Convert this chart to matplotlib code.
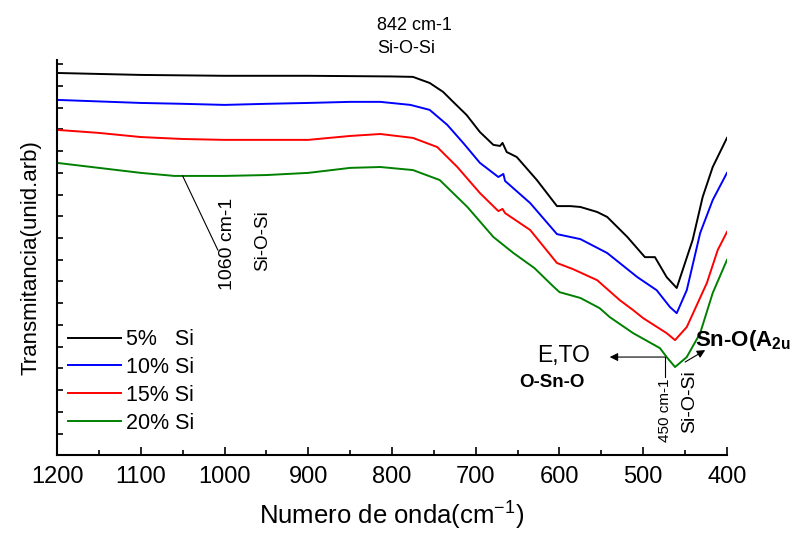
import matplotlib
matplotlib.use("Agg")
import matplotlib.pyplot as plt
from matplotlib.ticker import MultipleLocator, NullFormatter

# FTIR spectra, wavenumber (cm-1) vs transmittance (arbitrary units, offset curves)
wn_5 = [1200, 1100, 1000, 900, 800, 775, 755, 739, 727, 711, 695, 679, 671, 668,
        663, 651, 627, 615, 603, 587, 575, 555, 543, 519, 498, 486, 472, 460,
        441, 429, 417, 400]
tr_5 = [17.60, 17.51, 17.47, 17.47, 17.44, 17.42, 17.14, 16.73, 16.27, 15.67,
        14.88, 14.29, 14.24, 14.38, 13.96, 13.73, 12.67, 12.07, 11.47, 11.47,
        11.43, 11.20, 10.97, 10.05, 9.12, 9.12, 8.20, 7.70, 9.91, 11.89, 13.27,
        14.61]

wn_10 = [1200, 1100, 1050, 1000, 950, 900, 850, 814, 778, 755, 734, 715, 695,
         673, 667, 665, 635, 603, 575, 543, 507, 484, 468, 460, 448, 432, 417, 400]
tr_10 = [16.36, 16.22, 16.18, 16.13, 16.18, 16.22, 16.27, 16.27, 16.13, 15.90,
         15.21, 14.38, 13.46, 12.81, 12.95, 12.63, 11.61, 10.18, 9.95, 9.31,
         8.20, 7.60, 6.82, 6.54, 7.60, 10.23, 11.75, 13.00]

wn_15 = [1200, 1150, 1100, 1050, 1000, 900, 850, 814, 775, 746, 722, 695, 673,
         668, 665, 635, 603, 584, 555, 528, 512, 500, 472, 462, 448, 424, 411, 400]
tr_15 = [14.98, 14.84, 14.65, 14.56, 14.52, 14.52, 14.70, 14.79, 14.61, 14.19,
         13.27, 12.07, 11.24, 11.34, 11.15, 10.37, 8.85, 8.57, 8.06, 7.14, 6.68,
         6.31, 5.62, 5.30, 5.90, 7.93, 9.45, 10.28]

wn_20 = [1200, 1150, 1100, 1060, 1000, 950, 900, 850, 814, 775, 743, 710, 679,
         655, 630, 609, 600, 575, 552, 540, 512, 480, 472, 462, 448, 432, 417, 400]
tr_20 = [13.46, 13.23, 13.00, 12.86, 12.86, 12.90, 13.00, 13.23, 13.27, 13.13,
         12.67, 11.43, 10.05, 9.31, 8.62, 7.83, 7.51, 7.24, 6.77, 6.36, 5.62,
         4.93, 4.52, 4.06, 4.52, 5.62, 7.47, 8.99]

labels = ["5%   Si", "10% Si", "15% Si", "20% Si"]
colors = ["black", "#0000ff", "#ff0000", "#008000"]

xticks = [1200, 1100, 1000, 900, 800, 700, 600, 500, 400]

plt.rcParams["font.family"] = ["Liberation Sans", "DejaVu Sans"]
plt.rcParams["mathtext.fontset"] = "custom"
plt.rcParams["mathtext.rm"] = "Liberation Sans"
plt.rcParams["mathtext.bf"] = "Liberation Sans:bold"

fig = plt.figure(figsize=(7.9, 5.4), dpi=100)
ax = fig.add_axes([0.0722, 0.157, 0.848, 0.732])

series = [(wn_5, tr_5), (wn_10, tr_10), (wn_15, tr_15), (wn_20, tr_20)]
for (wn, tr), lab, col in zip(series, labels, colors):
    ax.plot(wn, tr, color=col, linewidth=1.4, label=lab)

ax.set_xlim(1200, 400)
ax.set_ylim(0, 18.2)
ax.set_xticks(xticks)
ax.xaxis.set_minor_locator(MultipleLocator(50))
ax.yaxis.set_major_locator(MultipleLocator(1))
ax.yaxis.set_major_formatter(NullFormatter())
ax.tick_params(axis="x", which="major", direction="in", length=6, width=1.2,
               labelsize=17, pad=8)
ax.tick_params(axis="x", which="minor", direction="in", length=3.5, width=1.2)
ax.tick_params(axis="y", which="major", direction="in", length=4, width=1.2)
ax.spines[["top", "right"]].set_visible(False)
ax.spines[["left", "bottom"]].set_linewidth(1.5)

ax.set_xlabel("Numero de onda(cm$^{-1}$)", fontsize=18.5, labelpad=7)
ax.set_ylabel("Transmitancia(unid.arb)", fontsize=16, labelpad=8)

ax.legend(loc="lower left", bbox_to_anchor=(0.0, 0.027), frameon=False,
          fontsize=15.5, handlelength=2.45, handletextpad=0.25, labelspacing=0.32,
          borderaxespad=0.1)

# band assignments
ax.text(818, 18.35, "842 cm-1\nSi-O-Si", fontsize=13, ha="left", va="bottom",
        linespacing=1.45, clip_on=False)

ax.plot([1050, 1008], [12.86, 9.45], color="black", linewidth=0.8)
ax.text(997, 7.6, "1060 cm-1", rotation=90, fontsize=14, ha="center", va="bottom")
ax.text(955, 8.5, "Si-O-Si", rotation=90, fontsize=13.5, ha="center", va="bottom")

# E,TO mode at 450 cm-1
ax.annotate("", xy=(540, 4.52), xytext=(474, 4.52),
            arrowprops=dict(arrowstyle="-|>", color="black", lw=0.8,
                            mutation_scale=12, shrinkA=0, shrinkB=0))
ax.plot([474, 474], [4.52, 3.59], color="black", linewidth=0.8)
ax.text(564, 4.6, "E,TO", fontsize=16.5, ha="right", va="center")
ax.text(570, 3.36, "O-Sn-O", fontsize=13.5, fontweight="bold", ha="right",
        va="center")
ax.text(474, 3.55, "450 cm-1", rotation=90, fontsize=11, ha="center", va="top")
ax.text(444, 3.92, "Si-O-Si", rotation=90, fontsize=14, ha="center", va="top")

# A2u mode
ax.annotate("", xy=(426, 4.84), xytext=(450, 4.29),
            arrowprops=dict(arrowstyle="-|>", color="black", lw=0.8,
                            mutation_scale=12, shrinkA=0, shrinkB=0))
ax.text(438, 5.3, r"Sn-O(A$_{\mathbf{2u}}$)", fontsize=16, fontweight="bold",
        ha="left", va="center", clip_on=False)

fig.savefig("out.png", dpi=100)
